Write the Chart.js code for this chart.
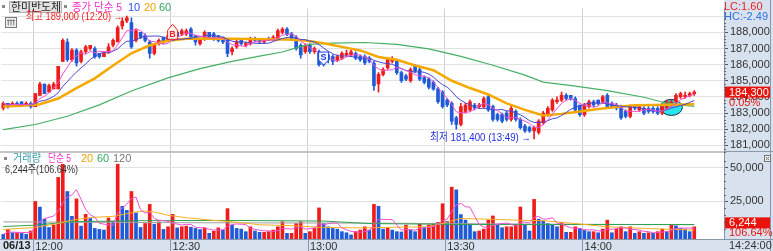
<!DOCTYPE html>
<html><head><meta charset="utf-8">
<script src="https://cdn.jsdelivr.net/npm/chart.js@4/dist/chart.umd.min.js"></script>
<style>html,body{margin:0;padding:0;background:#fff;overflow:hidden}canvas{display:block}</style>
</head><body>
<canvas id="c" width="773" height="251"></canvas>
<script>
// ---------- DATA ----------
const startMinute = 11 * 60 + 53;   // first category 11:53
const slotCount = 158;              // categories 11:53 .. 14:30
const timeTicks = ['12:00', '12:30', '13:00', '13:30', '14:00'];
const priceTicks = [181000, 182000, 183000, 184000, 185000, 186000, 187000, 188000, 189000];
const volTicks = [25000, 50000];
const dateLabel = '06/13';
const lastTimeLabel = '14:24:00';

const open = [183300,183600,183400,183600,183700,183500,183600,183400,184100,184800,184300,184500,184500,186200,187400,186300,186900,186200,186800,187000,
187000,186700,186500,186800,187200,187400,188400,188700,188600,187500,188000,187800,187400,186700,187300,187700,187500,187700,188000,187900,
187900,188200,187800,187300,187600,188000,187900,187800,187700,187600,186800,187100,187500,187200,187300,187600,187600,187400,187600,187500,
187600,188000,188200,187900,187700,187200,186800,187200,186800,186800,186400,186600,186500,186300,186400,186600,186600,186700,186500,186500,
186400,186100,184800,185400,185800,186200,186200,185500,185300,185000,185900,185700,185200,185100,184900,184500,184300,183800,183600,182700,
182300,183100,183200,183500,183400,183400,184000,183400,182900,182900,183000,182600,183100,182600,182200,182100,181900,181800,182400,182900,
183200,183700,183800,184100,184100,183900,183500,182900,183400,183700,183800,183700,184100,183600,183500,183400,183100,182800,183400,183200,
183300,183300,183300,183300,183000,183300,183500,183700,184000,184000,184100,184200];
const high = [183700,183600,183700,183700,183700,183700,183700,184200,184900,184800,184800,184900,185900,187600,187600,187000,187000,186900,187200,187200,
187100,186700,186800,187300,187600,188400,188900,189000,188900,188200,188000,187900,187500,187300,187600,187700,187900,188400,188100,188200,
188200,188300,187800,187600,188100,188000,188000,187800,187700,187600,187100,187500,187500,187400,187700,187700,187600,187600,187700,187800,
188200,188300,188300,188000,187800,187300,187300,187300,187100,186900,186500,186700,186600,186600,186800,186900,186900,186800,186600,186600,
186500,186200,185500,185800,186400,186500,186300,185600,185400,185800,186000,185800,185300,185200,185000,184600,184400,183900,183700,182800,
183600,183600,183800,183600,183600,184000,184100,183500,183000,183000,183100,183500,183200,182700,182300,182200,182200,182600,183100,183400,
183900,184000,184300,184200,184100,184000,183500,183600,183800,183800,183800,184100,184200,183700,183600,183500,183200,183500,183500,183500,
183400,183400,183400,183400,183500,183800,183800,184200,184300,184300,184300,184400];
const low = [183200,183300,183400,183400,183500,183500,183300,183400,184100,184200,184300,184500,184500,186200,186200,186200,185900,186100,186700,186900,
186400,186400,186500,186700,187100,187400,188200,188600,187000,187400,187600,187400,186400,186600,187200,187300,187400,187600,187700,187800,
187800,187600,187200,187200,187500,187600,187500,187400,187300,186500,186600,187000,187200,187100,187200,187400,187300,187300,187500,187500,
187500,187900,187800,187500,186900,186400,186700,186700,186700,185900,185900,186100,186000,186200,186300,186500,186500,186300,186200,186000,
186100,184400,184300,185300,185700,186100,185400,184900,185000,184900,185500,185000,184800,184500,184400,183600,183300,183400,182300,182000,
182200,183000,183100,183200,183300,183300,183100,182500,182500,182400,182500,182500,182500,182000,181800,181800,181400,181700,182300,182800,
183100,183600,183700,183800,183800,183100,182800,182800,183300,183400,183500,183600,183300,183300,183200,182600,182700,182700,183200,183100,
182900,183000,183000,182900,182900,183200,183400,183600,183900,183900,184000,184100];
const close = [183600,183400,183600,183500,183500,183600,183400,184200,184800,184200,184700,184800,185900,187500,186300,186900,186100,186800,187100,187200,
186500,186500,186700,187100,187500,188300,188700,188900,187100,188100,187700,187500,186700,187200,187500,187400,187800,188000,187800,188100,
188100,187700,187400,187500,188000,187700,187600,187500,187400,186700,187000,187400,187300,187300,187600,187500,187400,187600,187500,187700,
188100,188200,187900,187600,187000,186600,187200,186800,187000,186000,186000,186300,186200,186500,186700,186700,186800,186400,186300,186100,
186200,184700,185400,185700,186300,186300,185500,185000,185100,185700,185600,185100,184900,184600,184500,183700,183400,183500,182500,182300,
183400,183500,183700,183300,183500,183900,183200,182600,182600,182500,182600,183300,182600,182100,181900,181900,182100,182500,183000,183300,
183800,183800,184100,183900,183900,183200,182900,183500,183700,183500,183600,184000,183400,183400,183300,182700,182800,183400,183300,183400,
183000,183100,183100,183000,183400,183700,183700,184100,184200,184100,184200,184300];
const volume = [700,4400,1900,1900,1400,700,3200,25000,20800,11900,5800,7500,42700,52400,32300,14000,26900,6800,15500,12400,
5100,4400,3900,12800,10400,52400,21400,18400,32300,16500,5800,8700,22800,8200,9900,4400,6300,15500,5500,6300,
6800,6000,5100,4300,5500,1500,3000,5500,4000,19700,7500,5100,4600,2700,6300,3200,2200,2200,2700,3900,
6300,10000,1500,1500,8700,10000,1500,2700,5100,20200,8700,6300,5100,4600,2700,1900,300,2700,3900,6300,
3900,22800,21400,4600,5600,3900,2700,2500,7500,3900,2700,8700,5600,7500,8700,9500,23300,10400,35500,33500,
15300,11200,8000,2700,3200,4600,11200,14300,8000,5600,6300,6300,8000,20900,7500,3200,26500,11900,10400,8700,
7500,6300,9500,2200,2200,6300,5100,3900,2700,2700,1900,4600,11200,1900,4600,6300,2700,6300,1500,2700,
1500,1900,1500,2700,4600,2700,7500,7000,5100,4600,2700,6244];

// longer moving averages (index, value)
const ma20Idx = [0,4,8,12,16,20,24,28,32,36,40,46,54,62,66,70,74,78,82,86,90,94,98,102,106,110,114,118,122,126,130,134,138,142,146,151];
const ma20Val = [183400,183450,183550,183900,184550,185150,185950,186700,187200,187480,187600,187620,187590,187550,187500,187330,187100,186880,186470,186300,185950,185650,185000,184550,184150,183600,183200,182850,182950,183100,183250,183380,183480,183500,183520,183550];
const ma60Idx = [0,7,14,21,28,36,43,50,56,61,64,67,72,79,86,93,100,107,114,118,125,132,140,145,151];
const ma60Val = [181980,182290,182800,183510,184370,185180,185750,186200,186530,186780,187040,187250,187330,187370,187250,186980,186510,185960,185350,184920,184670,184390,183980,183610,183420];
const vma20Idx = [0,7,12,15,19,24,29,31,33,36,40,46,50,56,64,70,79,86,93,100,107,114,118,125,132,140,151];
const vma20Val = [4300,5800,8700,11200,13100,14000,17200,17900,17200,14800,13000,11000,10000,7800,7000,5800,5500,6000,6300,12400,11800,11000,10800,8700,6300,5100,3900];
const vma60Idx = [0,7,15,30,50,70,80,100,120,151];
const vma60Val = [6500,7500,10000,10800,11000,10500,8700,8000,8000,8000];
const vma120Idx = [0,40,80,120,151];
const vma120Val = [9900,9300,9000,8200,7800];

const priceMin = 180590, priceMax = 189470;
const volMin = -2700, volMax = 61440;
const lastPrice = '184,300', lastPct = '0.05%';
const lastVol = '6,244', lastVolPct = '106.64%';
const hiText = '최고 189,000 (12:20) →', hiIdx = 27, hiPrice = 189000;
const loText = '최저 181,400 (13:49) →', loIdx = 116, loPrice = 181400;

// ---------- BUILD ----------
const times = [];
for (let k = 0; k < slotCount; k++) {
  const m = startMinute + k;
  times.push(String(Math.floor(m / 60)).padStart(2, '0') + ':' + String(m % 60).padStart(2, '0'));
}
const RED = '#f01c1c', BLUE = '#1f5bd8';
const candleCol = open.map((o, i) => close[i] >= o ? RED : BLUE);
const volCol = volume.map((v, i) => (i > 0 && v >= volume[i - 1]) ? RED : BLUE);
function sma(arr, n) { return arr.map((_, i) => { const s = arr.slice(Math.max(0, i - n + 1), i + 1); return s.reduce((a, b) => a + b, 0) / s.length; }); }
function sparse(idx, val) { const a = new Array(slotCount).fill(null); idx.forEach((x, k) => a[x] = val[k]); return a; }

const FONT = '"Liberation Sans", "Noto Sans CJK KR", sans-serif';
const lineDs = (data, color, width, axis, order, gaps) => ({ type: 'line', data, borderColor: color, borderWidth: width, pointRadius: 0, tension: 0, yAxisID: axis, order, spanGaps: !!gaps });

const overlay = {
  id: 'overlay',
  beforeDraw(chart) {
    const c = chart.ctx, ca = chart.chartArea;
    c.save();
    c.fillStyle = '#fff'; c.fillRect(0, 0, 773, 251);
    c.fillStyle = '#d8e2ee';
    c.fillRect(ca.right, 0, 773 - ca.right, 251);
    c.fillRect(0, ca.bottom, ca.right, 251 - ca.bottom);
    c.restore();
  },
  beforeDatasetsDraw(chart) {
    const c = chart.ctx, xs = chart.scales.x, ys = chart.scales.y;
    c.save();
    c.beginPath();
    c.ellipse(xs.getPixelForValue(146), ys.getPixelForValue(183350), 11, 8, 0, 0, Math.PI * 2);
    c.fillStyle = '#28e4f2'; c.fill();
    c.strokeStyle = '#153050'; c.lineWidth = 1; c.stroke();
    c.restore();
  },
  afterDraw(chart) {
    const c = chart.ctx, ca = chart.chartArea, xs = chart.scales.x, ys = chart.scales.y, yv = chart.scales.yv;
    c.save();
    c.textBaseline = 'middle';
    c.font = '11px ' + FONT;
    // pane separator
    const sep = yv.top;
    c.fillStyle = '#c4c4c4'; c.fillRect(0, sep - 1, ca.right, 2);
    c.fillStyle = '#8898aa'; c.fillRect(ca.right, sep - 1, 773 - ca.right, 1);
    c.fillRect(770, 0, 1, 251);
    // minor ticks on the right axes
    c.fillStyle = '#667';
    for (let v = 180600; v < 189400; v += 200) { if (v % 1000) c.fillRect(ca.right, Math.round(ys.getPixelForValue(v)), 2, 1); }
    for (let v = 5000; v < 60000; v += 5000) { if (v % 25000) c.fillRect(ca.right, Math.round(yv.getPixelForValue(v)), 2, 1); }
    // time band separators
    c.fillStyle = '#8898aa';
    c.fillRect(0, ca.bottom, 773, 1);
    const half = (xs.getPixelForValue(1) - xs.getPixelForValue(0)) / 2;
    timeTicks.forEach(t => { const x = Math.round(xs.getPixelForValue(times.indexOf(t)) - half); c.fillRect(x, ca.bottom, 1, 251 - ca.bottom); });
    c.fillStyle = '#222'; c.font = 'bold 11px ' + FONT; c.textAlign = 'left';
    c.fillText(dateLabel, 3, 245.5);
    c.font = '11px ' + FONT; c.fillStyle = '#333';
    c.fillText(lastTimeLabel, 729, 245.5);
    // top legend
    c.fillStyle = '#8a8a8a'; c.fillRect(2, 5, 3, 3); c.fillRect(64, 5, 3, 3);
    c.fillStyle = '#e2e2e2'; c.fillRect(9, 1, 53, 12);
    c.strokeStyle = '#b4b4b4'; c.lineWidth = 1; c.strokeRect(9.5, 1.5, 52, 11);
    c.fillStyle = '#222'; c.fillText('한미반도체', 11, 7.5, 50);
    c.fillStyle = '#f030c8'; c.fillText('종가 단순 5', 72, 7.5, 50);
    c.fillStyle = '#3050e8'; c.fillText('10', 128, 7.5);
    c.fillStyle = '#f0a400'; c.fillText('20', 144, 7.5);
    c.fillStyle = '#30a860'; c.fillText('60', 159, 7.5);
    // grid icon
    c.fillStyle = '#eeeeee'; c.fillRect(5, 17, 11, 10);
    c.strokeStyle = '#7a7a7a'; c.strokeRect(5.5, 17.5, 11, 10);
    c.beginPath(); for (let k = 1; k < 4; k++) { c.moveTo(5.5 + k * 2.75, 19.5); c.lineTo(5.5 + k * 2.75, 25.5); } c.moveTo(7, 20.5); c.lineTo(15, 20.5); c.stroke();
    // volume legend
    const vy = yv.top + 6.5;
    c.fillStyle = '#8a8a8a'; c.fillRect(4, vy - 1.5, 3, 3);
    c.fillStyle = '#38a0a8'; c.fillText('거래량', 13, vy, 28);
    c.fillStyle = '#f030c8'; c.fillText('단순 5', 48, vy, 23);
    c.fillStyle = '#f0a400'; c.fillText('20', 81, vy);
    c.fillStyle = '#30a860'; c.fillText('60', 97, vy);
    c.fillStyle = '#777'; c.fillText('120', 113, vy);
    c.fillStyle = '#333'; c.fillText(lastVol + '주(' + lastVolPct + ')', 5, vy + 11, 73);
    // high / low annotations
    c.textAlign = 'right';
    c.fillStyle = '#f02020'; c.fillText(hiText, xs.getPixelForValue(hiIdx) - 4, ys.getPixelForValue(hiPrice) + 0.5, 97);
    c.fillStyle = '#2030e0'; c.fillText(loText, xs.getPixelForValue(loIdx) - 3, ys.getPixelForValue(loPrice) - 1, 101);
    // B marker
    let bx = xs.getPixelForValue(37), by = ys.getPixelForValue(188500);
    c.beginPath(); c.moveTo(bx, by); c.lineTo(bx + 5, by + 6); c.lineTo(bx + 5, by + 15); c.lineTo(bx - 5, by + 15); c.lineTo(bx - 5, by + 6); c.closePath();
    c.fillStyle = '#fff2f2'; c.fill(); c.strokeStyle = '#f02020'; c.stroke();
    c.textAlign = 'center'; c.fillStyle = '#f02020'; c.font = 'bold 9px ' + FONT; c.fillText('B', bx, by + 10.5);
    // S marker
    let sx = xs.getPixelForValue(70), sy = ys.getPixelForValue(186780);
    c.beginPath(); c.moveTo(sx - 5, sy); c.lineTo(sx + 5, sy); c.lineTo(sx + 5, sy + 8); c.lineTo(sx, sy + 13); c.lineTo(sx - 5, sy + 8); c.closePath();
    c.fillStyle = '#f4f6ff'; c.fill(); c.strokeStyle = '#2040e0'; c.stroke();
    c.fillStyle = '#2040e0'; c.fillText('S', sx, sy + 5.5);
    // right axis boxes
    c.font = '11px ' + FONT; c.textAlign = 'left';
    const py = ys.getPixelForValue(184300);
    c.fillStyle = '#e8140c'; c.fillRect(725, py - 5.5, 45, 11);
    c.fillStyle = '#fff'; c.fillText(lastPrice, 729, py + 0.5);
    c.fillStyle = '#e8140c'; c.fillText(lastPct, 729, py + 11);
    const vpy = yv.getPixelForValue(6244) - 4;
    c.fillStyle = '#e8140c'; c.fillRect(725, vpy - 5.5, 45, 11);
    c.fillStyle = '#fff'; c.fillText(lastVol, 729, vpy + 0.5);
    c.fillStyle = '#e8140c'; c.fillText(lastVolPct, 729, vpy + 10);
    c.fillStyle = '#f02020'; c.fillText('LC:1.60', 724, 6.5);
    c.fillStyle = '#3070e0'; c.fillText('HC:-2.49', 724, 16.5);
    // close button
    c.fillStyle = '#eee'; c.fillRect(764, yv.top + 3, 7, 7);
    c.strokeStyle = '#777'; c.strokeRect(764.5, yv.top + 3.5, 6, 6);
    c.beginPath(); c.moveTo(766, yv.top + 5); c.lineTo(769, yv.top + 8); c.moveTo(769, yv.top + 5); c.lineTo(766, yv.top + 8); c.stroke();
    c.restore();
  }
};

new Chart(document.getElementById('c'), {
  type: 'bar',
  data: {
    labels: times,
    datasets: [
      lineDs(sma(close, 5), '#f050d0', 1, 'y', 1),
      lineDs(sma(close, 10), '#4848d0', 1, 'y', 2),
      lineDs(sparse(ma20Idx, ma20Val), '#f5a800', 2.5, 'y', 3, true),
      lineDs(sparse(ma60Idx, ma60Val), '#45b065', 1.2, 'y', 4, true),
      { type: 'bar', data: open.map((o, i) => [Math.min(o, close[i]), Math.max(o, close[i])]), backgroundColor: candleCol, barThickness: 3, grouped: false, yAxisID: 'y', order: 10 },
      { type: 'bar', data: low.map((l, i) => [l, high[i]]), backgroundColor: candleCol, barThickness: 1, grouped: false, yAxisID: 'y', order: 11 },
      lineDs(sma(volume, 5), '#f050d0', 1, 'yv', 5),
      lineDs(sparse(vma20Idx, vma20Val), '#f8b020', 1, 'yv', 6, true),
      lineDs(sparse(vma60Idx, vma60Val), '#30a050', 1, 'yv', 7, true),
      lineDs(sparse(vma120Idx, vma120Val), '#a0a0a0', 1, 'yv', 8, true),
      { type: 'bar', data: volume, backgroundColor: volCol, barThickness: 3, grouped: false, base: volMin, yAxisID: 'yv', order: 12 }
    ]
  },
  options: {
    responsive: false, animation: false, devicePixelRatio: 1,
    layout: { padding: { left: 1, top: 6, right: 0, bottom: 0 } },
    plugins: { legend: { display: false }, tooltip: { enabled: false } },
    scales: {
      x: {
        type: 'category', offset: true,
        grid: { offset: true, drawTicks: false, color: ctx => (ctx.tick && timeTicks.includes(times[ctx.index])) ? '#d2d2d2' : 'rgba(0,0,0,0)' },
        border: { display: false },
        ticks: { autoSkip: false, maxRotation: 0, minRotation: 0, align: 'start', padding: 1, color: '#333', font: { size: 11, family: FONT },
          callback: (v, i) => timeTicks.includes(times[i]) ? times[i] : '' },
        afterFit: s => { s.height = 12; }
      },
      y: {
        position: 'right', stack: 'pane', stackWeight: 145, min: priceMin, max: priceMax,
        afterBuildTicks: s => { s.ticks = priceTicks.map(v => ({ value: v })); },
        ticks: { autoSkip: false, padding: 2, color: '#333', font: { size: 11, family: FONT },
          callback: v => v >= 189000 ? '' : v.toLocaleString('en-US') },
        grid: { color: '#e2e2e2', tickLength: 4, tickColor: ctx => (ctx.tick && ctx.tick.value < 189000) ? '#556' : 'rgba(0,0,0,0)' },
        border: { color: '#8898aa' },
        afterFit: s => { s.width = 49; }
      },
      yv: {
        position: 'right', stack: 'pane', stackWeight: 88, min: volMin, max: volMax,
        afterBuildTicks: s => { s.ticks = volTicks.map(v => ({ value: v })); },
        ticks: { autoSkip: false, padding: 2, color: '#333', font: { size: 11, family: FONT },
          callback: v => v.toLocaleString('en-US') },
        grid: { color: '#e2e2e2', tickLength: 4, tickColor: '#556' },
        border: { color: '#8898aa' },
        afterFit: s => { s.width = 49; }
      }
    }
  },
  plugins: [overlay]
});
</script>
</body></html>
